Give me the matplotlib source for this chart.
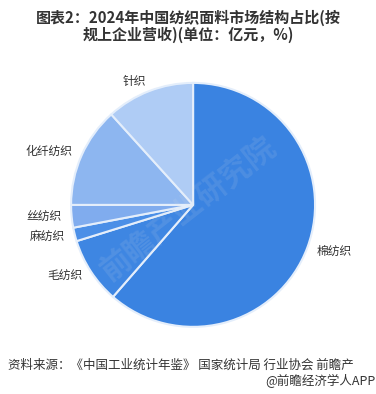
import matplotlib.pyplot as plt

plt.rcParams["font.family"] = ["Noto Sans CJK SC", "DejaVu Sans"]

# 数据 (读图估计, %)
labels = ["棉纺织", "毛纺织", "麻纺织", "丝纺织", "化纤纺织", "针织"]
shares = [61.4, 8.8, 1.8, 3.0, 13.3, 11.7]
colors = ["#3a83e1", "#3e86e2", "#4b8fe7", "#80acee", "#8db6f0", "#afccf5"]

title = "图表2：2024年中国纺织面料市场结构占比(按\n规上企业营收)(单位：亿元，%)"
source = "资料来源：《中国工业统计年鉴》 国家统计局 行业协会 前瞻产"
credit = "@前瞻经济学人APP"

fig = plt.figure(figsize=(3.76, 3.94), dpi=100)
ax = fig.add_axes([0.108, 0.093, 0.811, 0.774])

ax.pie(
    shares,
    labels=labels,
    colors=colors,
    startangle=90,
    counterclock=False,
    labeldistance=1.08,
    wedgeprops={"edgecolor": "#e4eefb", "linewidth": 1.5},
    textprops={"fontsize": 8.5, "color": "#333333"},
)
ax.set_aspect("equal")

# 水印
fig.text(0.5, 0.47, "前瞻产业研究院", fontsize=22, color="#d8dde6", alpha=0.12,
         rotation=38, ha="center", va="center", fontweight="bold")

fig.text(0.5, 0.933, title, ha="center", va="center", fontsize=10.8,
         fontweight="bold", color="#333333", linespacing=1.05)
fig.text(0.02, 0.074, source, ha="left", va="center", fontsize=9, color="#333333")
fig.text(0.999, 0.033, credit, ha="right", va="center", fontsize=9, color="#333333")

plt.savefig("out.png", dpi=100)
